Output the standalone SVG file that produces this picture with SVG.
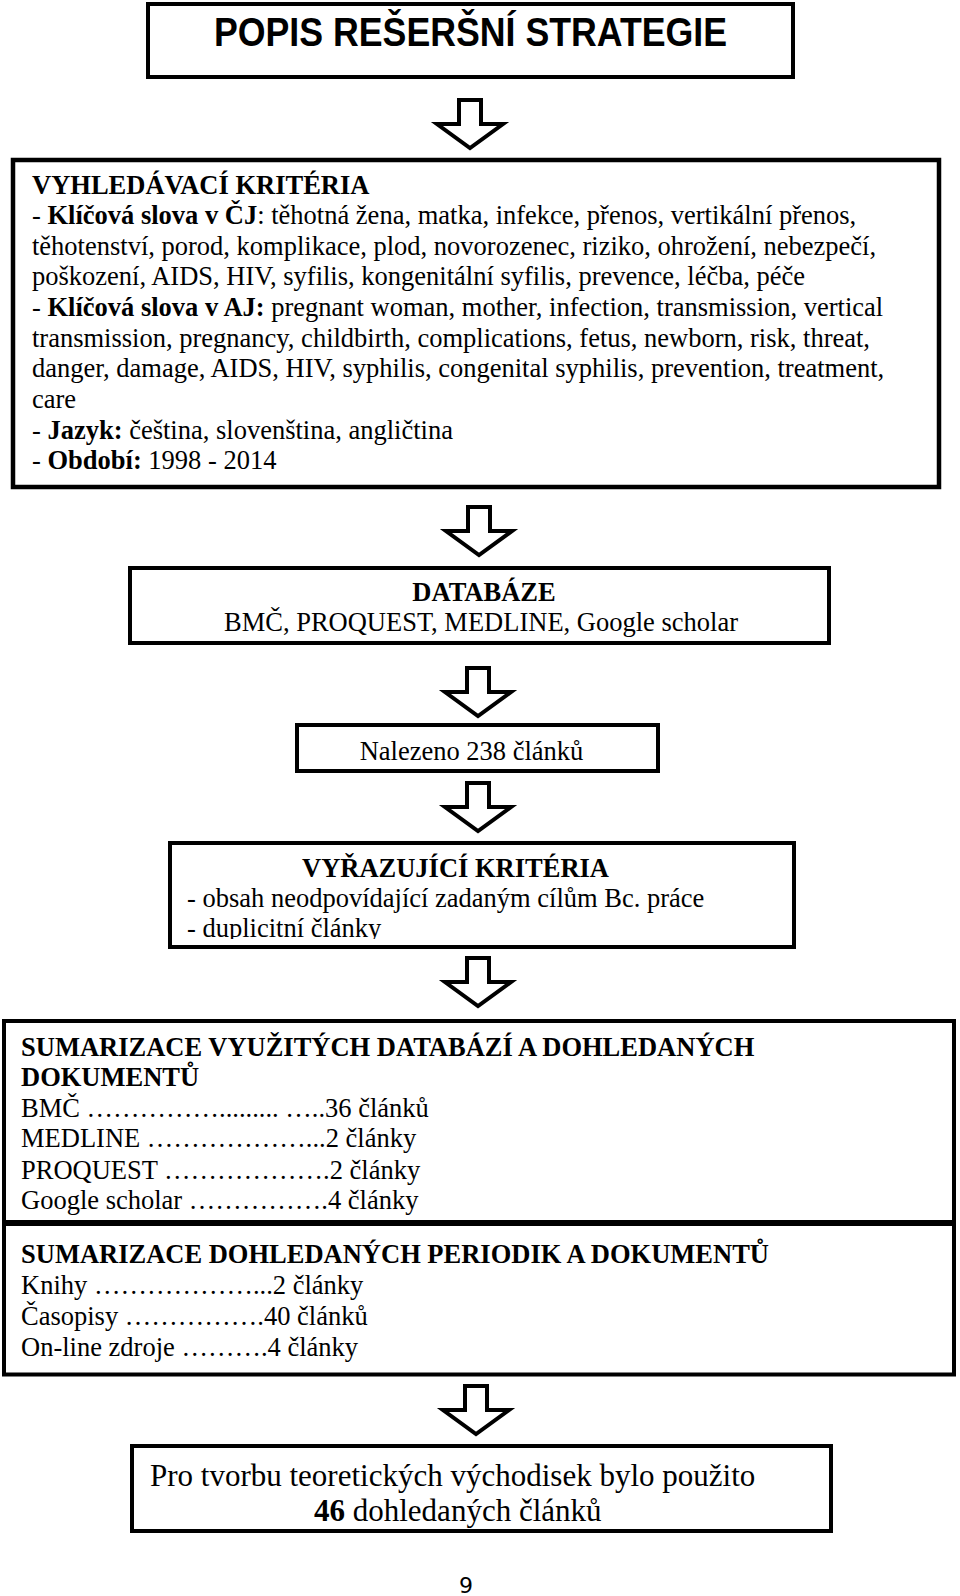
<svg xmlns="http://www.w3.org/2000/svg" width="960" height="1596" viewBox="0 0 960 1596">
<style>
.box{fill:#fff;stroke:#000;stroke-width:4}
.arr{fill:#fff;stroke:#000;stroke-width:4;stroke-linejoin:miter}
.t{font-family:"Liberation Serif","Times New Roman",serif;font-size:26.5px;fill:#000}
.b{font-weight:bold}
.big{font-size:31px}
.title{font-family:"Liberation Sans",Arial,sans-serif;font-weight:bold;font-size:40px;fill:#000}
.pg{font-family:"DejaVu Sans",sans-serif;font-size:22px;fill:#000}
</style>
<defs>
<path id="arrow" d="M -11 0 H 11 V 24 H 33 L 0 48 L -33 24 H -11 Z"/>
<clipPath id="clip5"><rect x="172" y="845" width="620" height="94"/></clipPath>
</defs>
<rect width="960" height="1596" fill="#fff"/>
<g id="connectors">
<use href="#arrow" class="arr" transform="translate(470,100)"/>
<use href="#arrow" class="arr" transform="translate(479,507)"/>
<use href="#arrow" class="arr" transform="translate(478,668)"/>
<use href="#arrow" class="arr" transform="translate(478,783)"/>
<use href="#arrow" class="arr" transform="translate(478,958)"/>
<use href="#arrow" class="arr" transform="translate(476,1386)"/>
</g>
<g id="title">
<rect class="box" x="148" y="4" width="645" height="73"/>
<text class="title" x="214" y="46" textLength="513" lengthAdjust="spacingAndGlyphs">POPIS REŠERŠNÍ STRATEGIE</text>
</g>
<g id="search-criteria">
<rect class="box" x="13" y="160" width="926" height="327" style="stroke-width:4.5"/>
<text class="t" x="32" y="193.5"><tspan class="b">VYHLEDÁVACÍ KRITÉRIA</tspan></text>
<text class="t" x="32" y="224">- <tspan class="b">Klíčová slova v ČJ</tspan>: těhotná žena, matka, infekce, přenos, vertikální přenos,</text>
<text class="t" x="32" y="255">těhotenství, porod, komplikace, plod, novorozenec, riziko, ohrožení, nebezpečí,</text>
<text class="t" x="32" y="285">poškození, AIDS, HIV, syfilis, kongenitální syfilis, prevence, léčba, péče</text>
<text class="t" x="32" y="316">- <tspan class="b">Klíčová slova v AJ:</tspan> pregnant woman, mother, infection, transmission, vertical</text>
<text class="t" x="32" y="347">transmission, pregnancy, childbirth, complications, fetus, newborn, risk, threat,</text>
<text class="t" x="32" y="377">danger, damage, AIDS, HIV, syphilis, congenital syphilis, prevention, treatment,</text>
<text class="t" x="32" y="408">care</text>
<text class="t" x="32" y="439">- <tspan class="b">Jazyk:</tspan> čeština, slovenština, angličtina</text>
<text class="t" x="32" y="469">- <tspan class="b">Období:</tspan> 1998 - 2014</text>
</g>
<g id="databases">
<rect class="box" x="130" y="568" width="699" height="75"/>
<text class="t b" x="484" y="600.5" text-anchor="middle">DATABÁZE</text>
<text class="t" x="481" y="631" text-anchor="middle">BMČ, PROQUEST, MEDLINE, Google scholar</text>
</g>
<g id="found">
<rect class="box" x="297" y="725" width="361" height="46"/>
<text class="t" x="471.5" y="759.5" text-anchor="middle">Nalezeno 238 článků</text>
</g>
<g id="exclusion-criteria">
<rect class="box" x="170" y="843" width="624" height="104"/>
<g clip-path="url(#clip5)">
<text class="t b" x="302" y="876.5">VYŘAZUJÍCÍ KRITÉRIA</text>
<text class="t" x="187" y="907">- obsah neodpovídající zadaným cílům Bc. práce</text>
<text class="t" x="187" y="937">- duplicitní články</text>
</g>
</g>
<g id="summary-databases">
<rect class="box" x="4" y="1021" width="950" height="201"/>
<text class="t b" x="21" y="1056">SUMARIZACE VYUŽITÝCH DATABÁZÍ A DOHLEDANÝCH</text>
<text class="t b" x="21" y="1086">DOKUMENTŮ</text>
<text class="t" x="21" y="1117">BMČ ……………......... …..36 článků</text>
<text class="t" x="21" y="1147">MEDLINE ………………...2 články</text>
<text class="t" x="21" y="1178.5">PROQUEST ……………….2 články</text>
<text class="t" x="21" y="1209">Google scholar …………….4 články</text>
</g>
<g id="summary-periodicals">
<rect class="box" x="4" y="1224" width="950" height="150.5"/>
<text class="t b" x="21" y="1263">SUMARIZACE DOHLEDANÝCH PERIODIK A DOKUMENTŮ</text>
<text class="t" x="21" y="1294">Knihy ………………...2 články</text>
<text class="t" x="21" y="1324.5">Časopisy …………….40 článků</text>
<text class="t" x="21" y="1356">On-line zdroje ……….4 články</text>
</g>
<g id="result">
<rect class="box" x="132" y="1446" width="699" height="85"/>
<text class="t big" x="150" y="1486">Pro tvorbu teoretických východisek bylo použito</text>
<text class="t big" x="314" y="1521"><tspan class="b">46</tspan> dohledaných článků</text>
</g>
<text class="pg" x="466" y="1593" text-anchor="middle">9</text>
</svg>
